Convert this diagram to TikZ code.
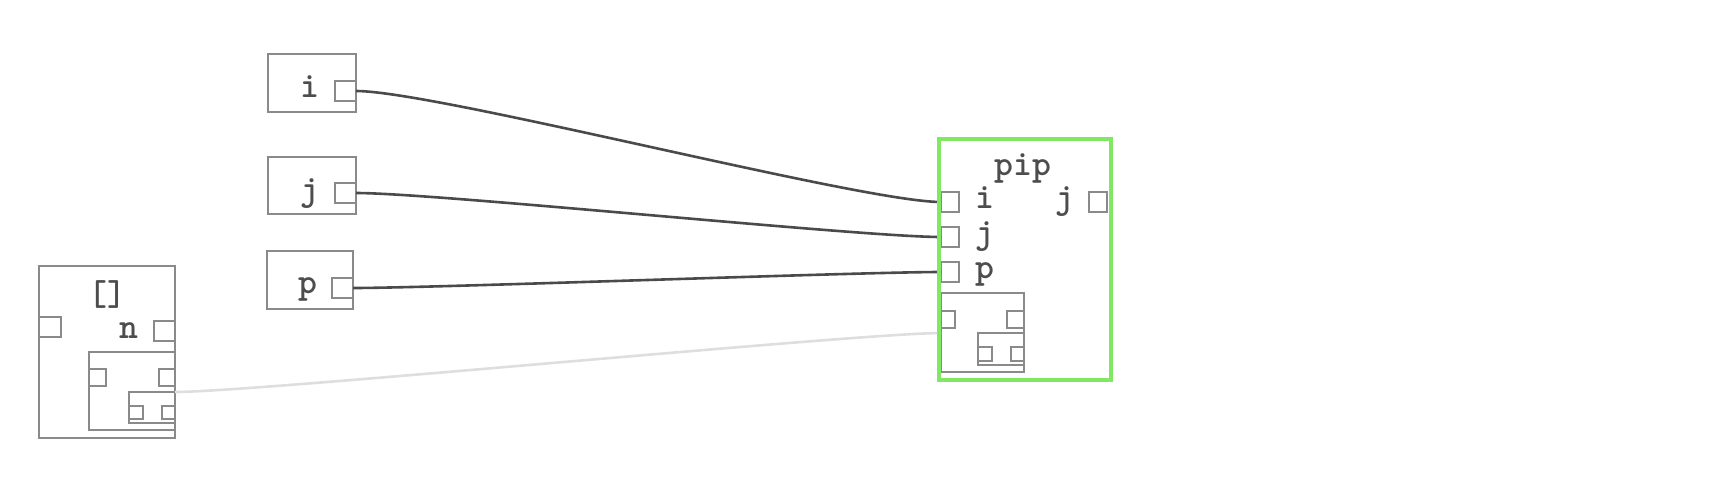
\documentclass[tikz,border=0pt]{standalone}
\usepackage{fontspec}
\usepackage{tikz}
\usetikzlibrary{calc}
\newfontfamily\lblfont{lmmonolt10-bold.otf}
\definecolor{boxgray}{HTML}{8A8A8A}
\definecolor{wiregray}{HTML}{4A4A4A}
\definecolor{ghostgray}{HTML}{DEDEDE}
\definecolor{txtgray}{HTML}{4D4D4D}
\definecolor{pipgreen}{HTML}{80E862}
\tikzset{
  framebox/.style={draw=boxgray,line width=1.2pt,inner sep=0pt,outer sep=0pt},
  portbox/.style={draw=boxgray,line width=1.1pt,inner sep=0pt,outer sep=0pt,
    minimum width=21,minimum height=20},
  smallport/.style={portbox,minimum width=14,minimum height=14},
  portlabel/.style={font=\fontsize{36}{40}\selectfont\lblfont,text=txtgray,
    inner sep=0pt,anchor=base},
  wire/.style={draw=wiregray,line width=2.6pt},
  ghostwire/.style={draw=ghostgray,line width=2.6pt},
  pipframe/.style={draw=pipgreen,line width=4pt,inner sep=0pt,outer sep=0pt}
}
\begin{document}
\begin{tikzpicture}[x=1pt,y=-1pt]
  \useasboundingbox (0,0) rectangle (1732,480);
  % input boxes
  \node[framebox,minimum width=88,minimum height=58] (ibox) at (312,83) {};
  \node[portlabel] at (310,97) {i};
  \node[portbox] (iout) at (345.5,91) {};
  \node[framebox,minimum width=88,minimum height=57] (jbox) at (312,185.5) {};
  \node[portlabel] at (310,200) {j};
  \node[portbox] (jout) at (345.5,193) {};
  \node[framebox,minimum width=86,minimum height=58] (pbox) at (310,280) {};
  \node[portlabel] at (308,293) {p};
  \node[portbox] (pout) at (342.5,288) {};
  % list box
  \node[framebox,minimum width=136,minimum height=172] (list) at (107,352) {};
  \node[portlabel] at (107,305) {[]};
  \node[portlabel] at (129,338) {n};
  \node[portbox,minimum width=22] (listin) at (50,327) {};
  \node[portbox] (listout) at (164.5,331) {};
  \node[framebox,minimum width=86,minimum height=78] (listsub) at (132,391) {};
  \node[smallport,minimum width=17,minimum height=17] at (97.5,377.5) {};
  \node[smallport,minimum width=16,minimum height=17] at (167,377.5) {};
  \node[framebox,minimum width=46,minimum height=31] (listsubsub) at (152,407.5) {};
  \node[smallport,minimum height=13] at (136,412.5) {};
  \node[smallport,minimum width=13,minimum height=13] at (168.5,412.5) {};
  % pip contents
  \node[portlabel] at (1023,175) {pip};
  \node[portbox,minimum width=18] (pipi) at (950,202) {};
  \node[portbox,minimum width=18] (pipj) at (950,237) {};
  \node[portbox,minimum width=18] (pipp) at (950,272) {};
  \node[portlabel] at (985,208) {i};
  \node[portlabel] at (985,243) {j};
  \node[portlabel] at (985,278) {p};
  \node[portlabel] at (1065,208) {j};
  \node[portbox,minimum width=18] (pipout) at (1098,202) {};
  \node[framebox,minimum width=83,minimum height=79] (pipsub) at (982.5,332.5) {};
  \node[smallport,minimum height=17] at (948,319.5) {};
  \node[smallport,minimum width=17,minimum height=17] at (1015.5,319.5) {};
  \node[framebox,minimum width=46,minimum height=32] (pipsubsub) at (1001,349) {};
  \node[smallport] at (985,354) {};
  \node[smallport,minimum width=13] at (1017.5,354) {};
  % wires
  \coordinate (ghostend) at (pipsub.west |- pipsubsub.north);
  \draw[ghostwire] (listsubsub.north east) .. controls +(80,0) and +(-80,0) .. (ghostend);
  \draw[wire] (iout.east) .. controls +(80,0) and +(-80,0) .. (pipi.west);
  \draw[wire] (jout.east) .. controls +(80,0) and +(-80,0) .. (pipj.west);
  \draw[wire] (pout.east) .. controls +(80,0) and +(-80,0) .. (pipp.west);
  \node[pipframe,minimum width=172,minimum height=241] (pip) at (1024.7,259.2) {};
\end{tikzpicture}
\end{document}
